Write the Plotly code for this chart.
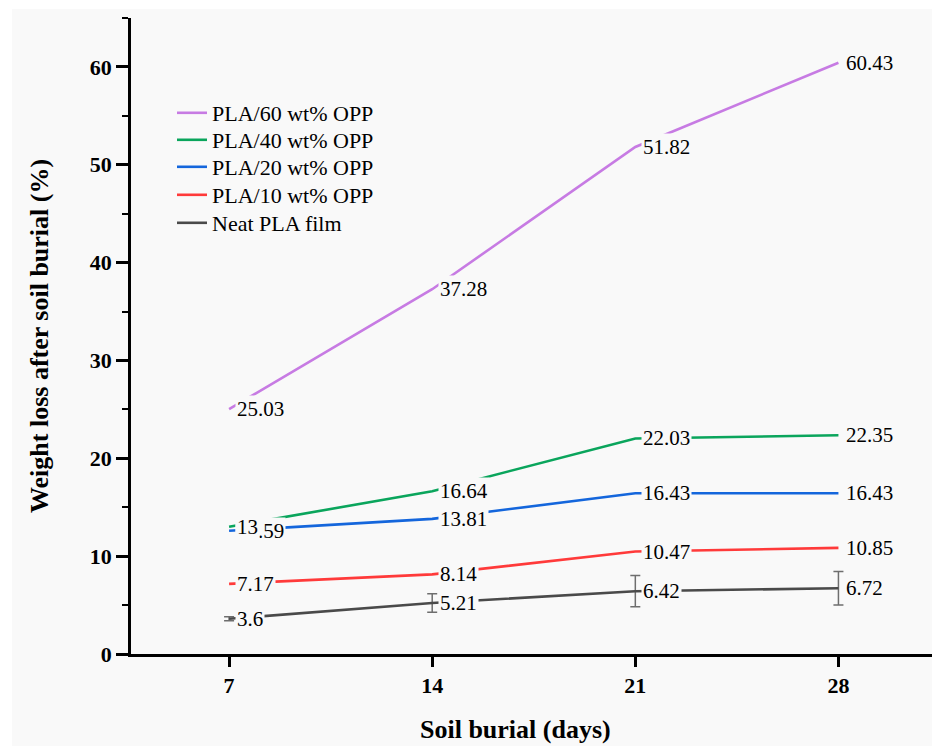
import plotly.graph_objects as go

# ---- data ----
days = [7, 14, 21, 28]
series_names = ["Neat PLA film", "PLA/10 wt% OPP", "PLA/20 wt% OPP",
                "PLA/40 wt% OPP", "PLA/60 wt% OPP"]
neat = [3.6, 5.21, 6.42, 6.72]
neat_err = [0.2, 0.95, 1.6, 1.7]
pla10 = [7.17, 8.14, 10.47, 10.85]
pla20 = [12.59, 13.81, 16.43, 16.43]
pla40 = [13, 16.64, 22.03, 22.35]
pla60 = [25.03, 37.28, 51.82, 60.43]
y_ticks = [0, 10, 20, 30, 40, 50, 60]

series_values = [neat, pla10, pla20, pla40, pla60]
colors = ["#4a4a4a", "#ff3a3a", "#1466dc", "#0aa55c", "#c77be3"]

FONT = "Liberation Serif, Times New Roman, serif"
BG = "#f9f9f9"

OFF = 8                      # page body margin in the browser
W, H = 940 - OFF, 746 - OFF
L, R, T, B = 131 - OFF, 0, 18 - OFF, 746 - 654
PW, PH = W - L - R, H - T - B


def px(xp):   # page x pixel -> paper coordinate
    return (xp - OFF - L) / PW


def py(yp):   # page y pixel -> paper coordinate
    return (H - B - (yp - OFF)) / PH


fig = go.Figure()

legend_rows = [223, 195, 167, 140, 113]   # page y of each legend row
legend_layout = {}
for i, (name, vals, col) in enumerate(zip(series_names, series_values, colors)):
    kw = {}
    if i == 0:
        kw["error_y"] = dict(type="data", array=neat_err, visible=True,
                             color="#6e6e6e", thickness=1.5, width=5)
    lname = "legend" if i == 0 else f"legend{i + 1}"
    fig.add_trace(go.Scatter(
        x=days, y=vals, name=name, mode="lines", legend=lname,
        line=dict(color=col, width=2.6), **kw))
    legend_layout[lname] = dict(
        x=px(172), y=py(legend_rows[i]), xanchor="left", yanchor="middle",
        bgcolor="rgba(0,0,0,0)", font=dict(family=FONT, size=22, color="black"),
        itemwidth=30)

annotations = []
for vals in series_values:
    for d, v in zip(days, vals):
        annotations.append(dict(
            x=d, y=v, xref="x", yref="y", text=f"{v:g}", showarrow=False,
            xanchor="left", yanchor="middle", xshift=6, borderpad=1,
            bgcolor=BG, font=dict(family=FONT, size=21, color="black")))

# axis titles
annotations.append(dict(
    x=px(515), y=py(729), xref="paper", yref="paper",
    text="<b>Soil burial (days)</b>", showarrow=False,
    xanchor="center", yanchor="middle",
    font=dict(family=FONT, size=26, color="black")))
annotations.append(dict(
    x=px(39), y=py(336), xref="paper", yref="paper",
    text="<b>Weight loss after soil burial (%)</b>", showarrow=False,
    textangle=-90, xanchor="center", yanchor="middle",
    font=dict(family=FONT, size=26, color="black")))

fig.update_layout(
    width=W, height=H,
    margin=dict(l=L, r=R, t=T, b=B, pad=0),
    paper_bgcolor="white", plot_bgcolor="rgba(0,0,0,0)",
    font=dict(family=FONT, color="black"),
    showlegend=True,
    annotations=annotations,
    shapes=[dict(type="rect", xref="paper", yref="paper",
                 x0=px(12), x1=1.02, y0=-0.3, y1=py(9),
                 fillcolor=BG, line=dict(width=0), layer="below")],
    **legend_layout,
)

fig.update_xaxes(
    range=[3.62, 31.5], tickmode="array", tickvals=days,
    ticktext=[f"<b>{d}</b>" for d in days],
    showline=True, linecolor="black", linewidth=2.5,
    ticks="outside", ticklen=10, tickwidth=2.5, tickcolor="black",
    showgrid=False, zeroline=False,
    tickfont=dict(family=FONT, size=22, color="black"),
)
fig.update_yaxes(
    range=[0, 65], tickmode="array", tickvals=y_ticks,
    ticktext=[f"<b>{t}</b>" for t in y_ticks],
    showline=True, linecolor="black", linewidth=2.5,
    ticks="outside", ticklen=12, tickwidth=2.5, tickcolor="black",
    minor=dict(ticks="outside", ticklen=6, tickwidth=2, tickcolor="black",
               dtick=5, tick0=0, showgrid=False),
    showgrid=False, zeroline=False,
    tickfont=dict(family=FONT, size=22, color="black"),
)

fig.write_html("out.html")
